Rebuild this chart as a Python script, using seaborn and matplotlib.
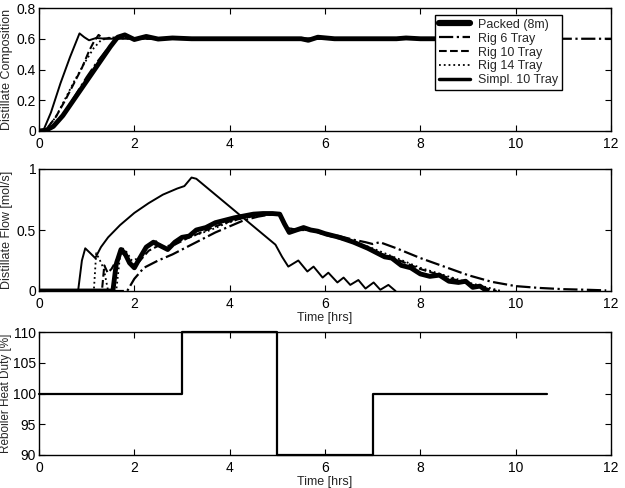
import numpy as np
import matplotlib
matplotlib.use("Agg")
import matplotlib.pyplot as plt
import seaborn as sns

# distillate composition (top panel)
comp_packed_t = [0, 0.15, 0.3, 0.5, 0.7, 0.9, 1.1, 1.3, 1.5, 1.65, 1.8, 2.0, 2.25, 2.5, 2.8, 3.2, 4.0, 5.5, 5.65, 5.85, 6.2, 7.5, 7.7, 8.0, 10.0]
comp_packed = [0, 0.005, 0.03, 0.1, 0.19, 0.28, 0.37, 0.46, 0.55, 0.61, 0.625, 0.595, 0.615, 0.598, 0.605, 0.6, 0.6, 0.6, 0.59, 0.61, 0.6, 0.6, 0.605, 0.6, 0.6]
comp_rig6_t = [0, 0.2, 0.4, 0.6, 0.8, 1.0, 1.2, 1.4, 1.6, 1.75, 2.0, 2.3, 2.6, 3.0, 12.0]
comp_rig6 = [0, 0.01, 0.06, 0.15, 0.25, 0.35, 0.44, 0.52, 0.59, 0.615, 0.6, 0.61, 0.6, 0.6, 0.6]
comp_rig10_t = [0, 0.15, 0.35, 0.55, 0.75, 0.9, 1.05, 1.15, 1.25, 1.35, 1.5, 1.7, 2.0, 10.0]
comp_rig10 = [0, 0.01, 0.09, 0.2, 0.32, 0.41, 0.52, 0.58, 0.625, 0.6, 0.605, 0.61, 0.6, 0.6]
comp_rig14_t = [0, 0.15, 0.35, 0.55, 0.75, 0.95, 1.15, 1.3, 1.5, 1.8, 10.0]
comp_rig14 = [0, 0.01, 0.09, 0.21, 0.33, 0.44, 0.54, 0.59, 0.61, 0.6, 0.6]
comp_simpl_t = [0, 0.1, 0.25, 0.45, 0.65, 0.85, 0.95, 1.05, 1.2, 1.4, 1.7, 10.0]
comp_simpl = [0, 0.01, 0.12, 0.31, 0.48, 0.635, 0.61, 0.59, 0.605, 0.6, 0.6, 0.6]

# distillate flow (middle panel)
flow_packed_t = [0, 1.55, 1.62, 1.72, 1.8, 1.9, 2.0, 2.1, 2.25, 2.4, 2.55, 2.7, 2.85, 3.0, 3.15, 3.3, 3.5, 3.7, 3.9, 4.1,
                 4.3, 4.5, 4.7, 4.9, 5.05, 5.15, 5.25, 5.4, 5.55, 5.7, 5.85, 6.0, 6.3, 6.6, 6.9, 7.1, 7.25, 7.4, 7.6, 7.8,
                 8.0, 8.2, 8.4, 8.6, 8.8, 8.95, 9.1, 9.25, 9.4]
flow_packed = [0, 0, 0.22, 0.34, 0.31, 0.23, 0.19, 0.26, 0.36, 0.4, 0.37, 0.34, 0.4, 0.44, 0.45, 0.5, 0.52, 0.56, 0.58, 0.6,
               0.615, 0.63, 0.635, 0.635, 0.63, 0.55, 0.48, 0.5, 0.52, 0.5, 0.49, 0.47, 0.44, 0.4, 0.35, 0.31, 0.28, 0.27, 0.21, 0.19,
               0.14, 0.12, 0.13, 0.08, 0.07, 0.08, 0.03, 0.04, 0]
flow_rig6_t = [0, 1.85, 2.0, 2.2, 2.5, 2.8, 3.1, 3.4, 3.7, 4.0, 4.3, 4.6, 4.9, 5.05, 5.2, 5.4, 5.7, 6.0, 6.3, 6.6,
               6.85, 7.0, 7.15, 7.5, 8.0, 8.5, 9.0, 9.5, 10.0, 10.5, 11.0, 11.5, 11.9]
flow_rig6 = [0, 0, 0.1, 0.19, 0.25, 0.3, 0.36, 0.42, 0.48, 0.53, 0.58, 0.61, 0.63, 0.63, 0.52, 0.5, 0.5, 0.47, 0.45, 0.42,
             0.4, 0.385, 0.4, 0.35, 0.27, 0.2, 0.13, 0.075, 0.04, 0.025, 0.015, 0.01, 0.005]
flow_rig10_t = [0, 1.32, 1.37, 1.44, 1.52, 1.62, 1.75, 1.85, 1.95, 2.1, 2.3, 2.5, 2.7, 2.9, 3.1, 3.4, 3.7, 4.0, 4.3, 4.6,
                4.9, 5.05, 5.2, 5.4, 5.7, 6.0, 6.5, 7.0, 7.5, 8.0, 8.5, 9.0, 9.3, 9.6]
flow_rig10 = [0, 0, 0.21, 0.15, 0.18, 0.25, 0.31, 0.27, 0.21, 0.24, 0.33, 0.37, 0.35, 0.39, 0.43, 0.48, 0.53, 0.57, 0.6, 0.62,
              0.63, 0.62, 0.51, 0.5, 0.5, 0.46, 0.41, 0.33, 0.26, 0.18, 0.12, 0.06, 0.03, 0]
flow_rig14_t = [0, 1.15, 1.2, 1.28, 1.36, 1.45, 1.62, 1.72, 1.82, 1.95, 2.1, 2.3, 2.45, 2.6, 2.8, 3.0, 3.3, 3.6, 3.9, 4.2,
                4.5, 4.8, 5.05, 5.2, 5.4, 5.7, 6.0, 6.5, 7.0, 7.5, 8.0, 8.5, 9.0, 9.4, 9.7]
flow_rig14 = [0, 0, 0.31, 0.25, 0.18, 0, 0, 0.36, 0.33, 0.25, 0.27, 0.38, 0.41, 0.36, 0.38, 0.42, 0.46, 0.5, 0.55, 0.59,
              0.61, 0.63, 0.63, 0.52, 0.5, 0.5, 0.47, 0.42, 0.35, 0.27, 0.19, 0.13, 0.07, 0.03, 0]
flow_simpl_t = [0, 0.82, 0.9, 0.97, 1.05, 1.18, 1.3, 1.45, 1.7, 2.0, 2.3, 2.6, 2.9, 3.05, 3.2, 3.3, 4.96, 5.1, 5.23, 5.44,
                5.63, 5.76, 5.95, 6.07, 6.26, 6.39, 6.53, 6.7, 6.85, 7.02, 7.16, 7.33, 7.48]
flow_simpl = [0, 0, 0.25, 0.35, 0.32, 0.27, 0.36, 0.44, 0.54, 0.64, 0.72, 0.79, 0.84, 0.86, 0.93, 0.92, 0.38, 0.28, 0.2, 0.25,
              0.16, 0.2, 0.11, 0.15, 0.07, 0.11, 0.05, 0.09, 0.02, 0.07, 0.01, 0.05, 0]

# reboiler heat duty (bottom panel)
duty_t = [0, 3, 5, 7, 10.65]
duty = [100, 110, 90, 100, 100]

labels = ["Packed (8m)", "Rig 6 Tray", "Rig 10 Tray", "Rig 14 Tray", "Simpl. 10 Tray"]
styles = ["-", "-.", "--", ":", "-"]
widths = [3.5, 1.6, 1.5, 1.3, 1.4]

sns.set_style("ticks")
plt.rcParams["font.family"] = ["Liberation Sans", "DejaVu Sans"]
plt.rcParams["xtick.direction"] = "in"
plt.rcParams["ytick.direction"] = "in"
plt.rcParams["xtick.top"] = True
plt.rcParams["ytick.right"] = True
plt.rcParams["axes.edgecolor"] = "black"
plt.rcParams["axes.linewidth"] = 1.0

fig = plt.figure(figsize=(6.25, 4.88), dpi=100)
W = 625.0
H = 488.0
def make_ax(top, bottom):
    return fig.add_axes([39 / W, 1 - bottom / H, (611 - 39) / W, (bottom - top) / H])

ax1 = make_ax(8, 131)
ax2 = make_ax(169, 291)
ax3 = make_ax(332, 455)

comp_sets = [(comp_packed_t, comp_packed), (comp_rig6_t, comp_rig6), (comp_rig10_t, comp_rig10),
             (comp_rig14_t, comp_rig14), (comp_simpl_t, comp_simpl)]
flow_sets = [(flow_packed_t, flow_packed), (flow_rig6_t, flow_rig6), (flow_rig10_t, flow_rig10),
             (flow_rig14_t, flow_rig14), (flow_simpl_t, flow_simpl)]

for (t, v), lab, ls, lw in zip(comp_sets, labels, styles, widths):
    sns.lineplot(x=t, y=v, ax=ax1, color="black", linestyle=ls, linewidth=lw,
                 estimator=None, sort=False, label=lab)
for (t, v), ls, lw in zip(flow_sets, styles, widths):
    sns.lineplot(x=t, y=v, ax=ax2, color="black", linestyle=ls, linewidth=lw,
                 estimator=None, sort=False)
sns.lineplot(x=duty_t, y=duty, ax=ax3, color="black", linewidth=1.6,
             estimator=None, sort=False, drawstyle="steps-post", clip_on=False)

ax1.set_ylim(0, 0.8)
ax1.set_yticks([0, 0.2, 0.4, 0.6, 0.8])
ax2.set_ylim(0, 1)
ax2.set_yticks([0, 0.5, 1])
ax3.set_ylim(90, 110)
ax3.set_yticks([90, 95, 100, 105, 110])

for ax in (ax1, ax2, ax3):
    ax.set_xlim(0, 12)
    ax.set_xticks(range(0, 13, 2))
    ax.yaxis.set_major_formatter(matplotlib.ticker.FormatStrFormatter("%g"))
    ax.tick_params(labelsize=10, length=4, width=0.8, colors="black")
    ax.tick_params(axis="x", pad=4)
    ax.tick_params(axis="y", pad=2)
    for s in ax.spines.values():
        s.set_visible(True)
        s.set_color("black")

ax1.set_ylabel("Distillate Composition", fontsize=9)
ax2.set_ylabel("Distillate Flow [mol/s]", fontsize=9)
ax3.set_ylabel("Reboiler Heat Duty [%]", fontsize=8.5)
ax1.yaxis.set_label_coords(-0.045, 0.5)
ax2.yaxis.set_label_coords(-0.045, 0.5)
ax3.yaxis.set_label_coords(-0.047, 0.5)
ax2.set_xlabel("Time [hrs]", fontsize=9, labelpad=1)
ax3.set_xlabel("Time [hrs]", fontsize=9, labelpad=1)

leg = ax1.legend(loc="upper right", bbox_to_anchor=(0.914, 0.943), borderaxespad=0,
                 fontsize=9, frameon=True, fancybox=False, framealpha=1,
                 edgecolor="black", labelspacing=0.15, handlelength=2.5,
                 handletextpad=0.6, borderpad=0.3)
leg.get_frame().set_linewidth(1.0)
hl = leg.legend_handles
hl[0].set_linewidth(4.5)
hl[4].set_linewidth(2.5)

fig.savefig("out.png", dpi=100)
